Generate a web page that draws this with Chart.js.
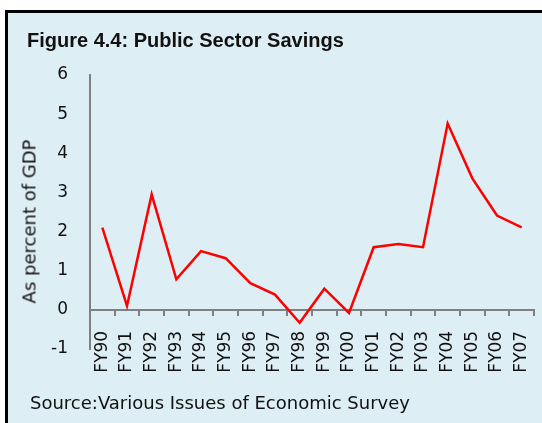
<!DOCTYPE html>
<html>
<head>
<meta charset="utf-8">
<script src="https://cdn.jsdelivr.net/npm/chart.js@4.4.1/dist/chart.umd.min.js"></script>
<style>
  html, body { margin: 0; padding: 0; background: #fff; }
  body { width: 542px; height: 423px; position: relative; overflow: hidden; }
  #box {
    position: absolute; left: 5px; top: 10px; width: 540px; height: 420px;
    background: #deeef5; border-left: 3px solid #000; border-top: 3px solid #000;
  }
  #title {
    position: absolute; left: 27px; top: 29px;
    font: bold 20px "Liberation Sans", Arial, sans-serif; color: #111;
  }
  #source {
    position: absolute; left: 30px; top: 392px;
    font: 18px "DejaVu Sans", sans-serif; color: #111;
  }
  #ytitle {
    position: absolute; left: 29px; top: 221px; width: 200px; margin-left: -100px;
    text-align: center; line-height: 20px; margin-top: -10px;
    transform: rotate(-90deg);
    font: 18px "DejaVu Sans", sans-serif; color: #111; white-space: nowrap;
  }
  #wrap { position: absolute; left: 8px; top: 13px; width: 534px; height: 410px; }
</style>
</head>
<body>
<div id="box"></div>
<div id="wrap"><canvas id="savingsChart"></canvas></div>
<div id="title">Figure 4.4: Public Sector Savings</div>
<div id="ytitle">As percent of GDP</div>
<div id="source">Source:Various Issues of Economic Survey</div>
<script>
// Public sector savings, % of GDP
const years = ["FY90", "FY91", "FY92", "FY93", "FY94", "FY95", "FY96", "FY97", "FY98",
  "FY99", "FY00", "FY01", "FY02", "FY03", "FY04", "FY05", "FY06", "FY07"];
const savings = [2.1, 0.1, 2.95, 0.78, 1.5, 1.32, 0.68, 0.39, -0.33,
  0.54, -0.08, 1.6, 1.68, 1.6, 4.76, 3.36, 2.41, 2.11];
const yMin = -1;
const yMax = 6;

const axisGray = "#808080";
const textColor = "#111";

const ctx = document.getElementById("savingsChart").getContext("2d");
new Chart(ctx, {
  type: "line",
  data: {
    labels: years,
    datasets: [
      {
        label: "Public Sector Savings",
        data: savings,
        borderColor: "#ff0000",
        borderWidth: 2.5,
        pointRadius: 0,
        tension: 0,
      },
    ],
  },
  options: {
    responsive: true,
    maintainAspectRatio: false,
    animation: false,
    layout: {
      padding: { top: 62, right: 8, bottom: 74, left: 0 },
    },
    plugins: {
      legend: { display: false },
      tooltip: { enabled: false },
    },
    scales: {
      x: {
        position: { y: 0 },
        offset: true,
        // rotated labels would otherwise push the right edge in
        afterFit: (scale) => {
          scale.paddingLeft = 0;
          scale.paddingRight = 0;
        },
        border: { display: true, color: axisGray, width: 2 },
        grid: {
          display: true,
          offset: true,
          drawOnChartArea: false,
          drawTicks: true,
          tickLength: 5,
          color: axisGray,
          lineWidth: 2,
        },
        ticks: {
          color: textColor,
          font: { family: "DejaVu Sans", size: 17 },
          minRotation: 90,
          maxRotation: 90,
          autoSkip: false,
          padding: 16,
        },
      },
      y: {
        position: "left",
        min: yMin,
        max: yMax,
        afterFit: (scale) => {
          scale.width = 82;
        },
        border: { display: true, color: axisGray, width: 2 },
        grid: { display: false },
        ticks: {
          stepSize: 1,
          color: textColor,
          padding: 14,
          font: { family: "DejaVu Sans", size: 17 },
        },
      },
    },
  },
});
</script>
</body>
</html>
